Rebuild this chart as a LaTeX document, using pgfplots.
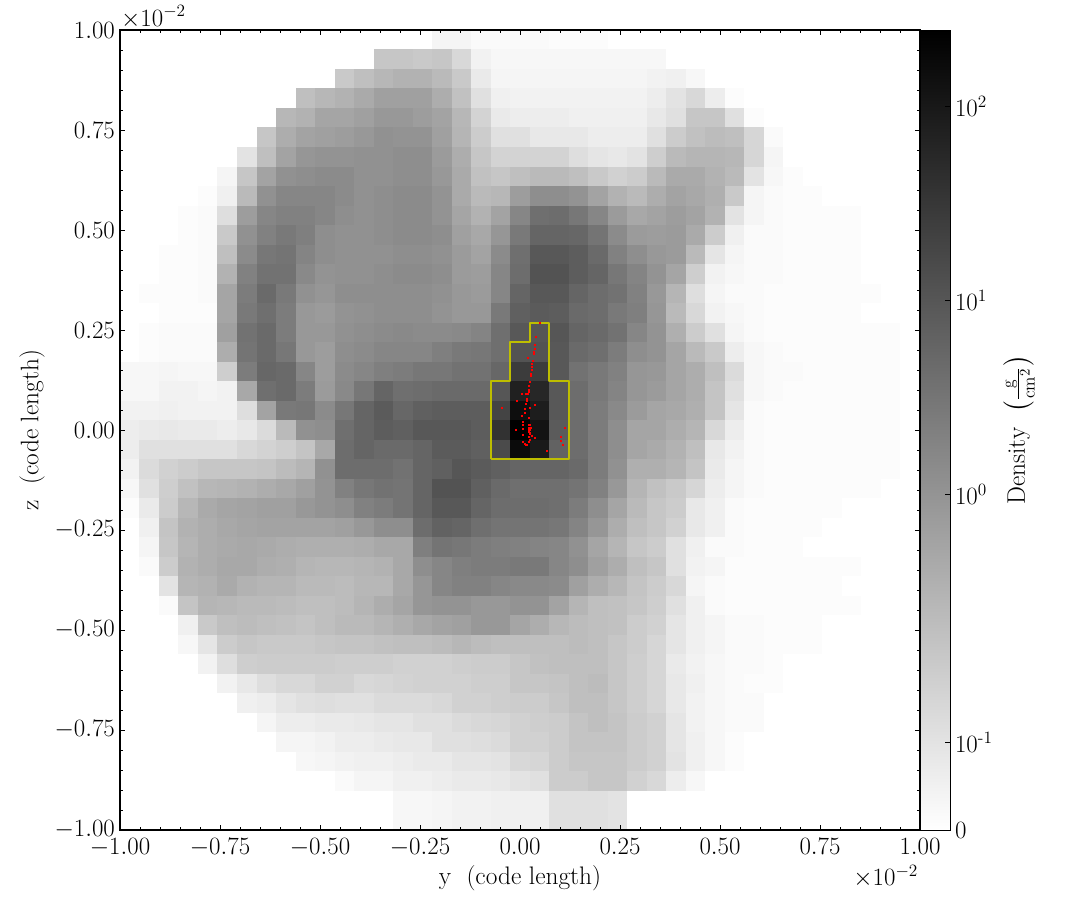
\documentclass[border=0pt]{standalone}
\usepackage{pgfplots}
\usepackage{pgfplotstable}
\usepackage{amsmath}
\pgfplotsset{compat=1.18}
% First column: row number from the top. Then the 41 cells of that row:
% colour-scale position in percent (0 = white, 100 = black)
\pgfplotstableread[header=false]{
0 0 0 0 0 0 0 0 0 0 0 0 0 0 0 0 0 4 4 2 2 2 2 1 1 1 0 0 0 0 0 0 0 0 0 0 0 0 0 0 0 0
1 0 0 0 0 0 0 0 0 0 0 0 0 0 22 22 21 22 15 5 3 3 3 3 3 3 3 3 3 0 0 0 0 0 0 0 0 0 0 0 0 0
2 0 0 0 0 0 0 0 0 0 0 0 21 25 28 30 30 27 21 8 4 4 4 4 4 4 4 4 5 6 3 0 0 0 0 0 0 0 0 0 0 0
3 0 0 0 0 0 0 0 0 0 25 28 30 33 37 37 37 32 24 12 6 5 5 5 5 5 5 5 7 11 15 7 1 0 0 0 0 0 0 0 0 0
4 0 0 0 0 0 0 0 0 28 30 35 35 37 40 40 38 36 28 17 8 7 7 7 6 6 6 6 9 12 22 22 12 1 0 0 0 0 0 0 0 0
5 0 0 0 0 0 0 0 22 32 36 37 38 40 43 42 42 37 29 20 12 12 9 9 9 7 7 7 12 20 24 26 25 16 2 0 0 0 0 0 0 0
6 0 0 0 0 0 0 11 25 36 41 42 42 43 43 44 44 39 32 22 17 17 17 17 13 10 9 11 19 27 29 29 28 16 4 0 0 0 0 0 0 0
7 0 0 0 0 0 4 22 36 43 44 45 45 43 43 44 44 40 33 24 22 25 27 27 25 21 18 20 27 33 33 30 27 11 3 1 0 0 0 0 0 0
8 0 0 0 0 1 6 27 43 47 47 47 45 43 44 45 45 42 33 27 28 38 44 44 42 36 30 27 32 36 34 31 21 4 2 1 1 0 0 0 0 0
9 0 0 0 1 2 13 38 47 49 49 47 44 43 44 45 45 42 35 30 36 47 56 57 53 47 39 34 36 38 36 30 11 4 2 1 1 1 1 0 0 0
10 0 0 0 1 2 21 43 49 52 50 44 43 43 44 45 45 44 37 34 41 52 60 60 59 54 45 39 38 39 33 20 6 2 2 1 1 1 1 0 0 0
11 0 0 1 1 2 25 45 53 54 48 44 43 43 43 44 44 43 39 36 45 56 65 65 63 58 49 44 40 39 27 10 4 2 2 1 1 1 1 0 0 0
12 0 0 1 1 2 30 49 55 55 46 42 43 43 44 45 45 44 39 38 47 57 67 67 63 60 53 48 42 35 19 5 3 2 2 1 1 1 1 0 0 0
13 0 1 1 1 2 35 51 58 52 43 41 44 44 44 44 44 43 40 39 47 60 65 65 60 57 55 49 40 29 13 4 2 2 1 1 1 1 1 1 0 0
14 0 0 1 1 1 35 52 56 51 40 39 42 43 44 44 44 42 40 40 52 62 64 63 58 57 52 50 41 27 15 5 3 2 1 1 1 1 1 0 0 0
15 0 1 2 2 2 37 55 58 51 40 40 43 44 45 46 45 45 46 48 56 65 66 66 60 58 55 47 42 31 20 12 4 2 1 1 1 1 1 1 1 0
16 0 1 2 2 2 32 54 58 53 40 38 44 45 47 47 47 50 52 53 56 67 67 65 58 56 51 44 42 35 27 21 7 3 2 1 1 1 1 1 1 0
17 3 3 4 3 3 19 51 59 58 47 38 45 47 50 51 53 53 55 55 59 76 76 65 55 52 49 41 40 35 32 25 14 3 2 2 1 1 1 1 1 0
18 3 3 5 5 4 5 34 56 58 51 39 46 53 60 56 57 58 58 58 66 87 84 65 57 52 48 41 39 35 32 23 12 3 2 1 1 1 1 1 1 0
19 5 5 6 5 5 5 13 36 52 53 45 53 60 64 59 62 63 63 63 73 94 88 65 57 51 46 39 35 34 31 23 10 2 1 1 1 1 1 1 1 0
20 7 8 9 8 8 7 9 14 27 43 44 56 60 63 62 65 65 65 63 80 100 92 64 57 51 44 35 35 32 29 15 7 2 1 1 1 1 1 1 1 0
21 7 12 12 12 12 12 15 17 19 23 34 57 60 58 58 60 64 64 62 70 95 89 61 57 51 44 35 33 30 25 9 5 2 1 1 1 1 1 1 1 0
22 5 14 18 20 22 22 22 23 26 29 43 57 57 57 55 60 62 66 64 62 60 60 60 58 51 43 31 31 29 23 8 4 2 1 1 1 1 1 1 1 0
23 3 12 19 24 28 29 30 32 34 37 42 49 53 55 54 60 67 67 62 58 56 56 56 54 49 40 29 24 21 16 7 4 2 1 1 1 1 1 1 0 0
24 1 8 20 28 33 35 36 37 37 40 42 44 49 51 54 60 65 65 60 57 57 57 56 51 44 35 27 22 20 9 6 2 1 1 1 1 1 0 0 0 0
25 0 6 23 30 32 34 35 36 36 36 36 37 40 44 44 57 61 60 56 54 54 54 53 48 41 32 25 22 18 9 6 2 1 1 1 1 0 0 0 0 0
26 0 4 22 29 32 33 34 33 32 31 31 31 32 34 34 50 54 53 51 50 49 48 47 43 35 29 22 20 12 6 2 2 1 1 1 0 0 0 0 0 0
27 0 2 20 30 32 34 34 32 31 29 28 28 29 30 34 44 47 50 51 51 52 52 47 44 37 32 25 22 12 5 4 1 1 1 1 1 1 1 0 0 0
28 0 0 11 29 30 33 30 29 29 27 27 26 28 28 34 41 47 49 49 47 46 46 45 37 32 28 23 20 15 4 2 1 1 1 1 1 1 0 0 0 0
29 0 0 2 23 29 28 27 27 26 25 25 26 29 32 35 41 42 42 40 40 42 42 36 29 25 24 22 19 12 6 2 1 1 1 1 1 1 1 0 0 0
30 0 0 0 6 21 25 26 25 24 23 25 27 27 29 31 34 36 37 40 40 35 32 28 26 25 24 20 18 10 6 4 2 2 1 1 1 0 0 0 0 0
31 0 0 0 3 10 20 22 21 21 21 22 23 23 24 25 25 26 28 26 25 25 25 25 26 25 22 20 16 10 6 4 2 2 1 1 1 0 0 0 0 0
32 0 0 0 0 5 13 19 20 20 20 20 19 19 19 18 18 18 19 20 20 22 24 25 25 25 22 19 16 8 5 3 2 2 1 0 0 0 0 0 0 0
33 0 0 0 0 0 5 9 13 15 15 18 18 15 16 17 18 18 18 19 19 22 22 23 25 26 22 19 16 9 6 3 2 1 1 0 0 0 0 0 0 0
34 0 0 0 0 0 0 6 7 10 12 13 12 12 14 14 14 15 18 18 19 20 20 22 25 25 22 19 16 9 5 3 2 2 0 0 0 0 0 0 0 0
35 0 0 0 0 0 0 0 4 7 7 8 8 9 10 10 12 12 14 15 16 18 19 20 23 25 23 20 18 10 5 3 2 2 0 0 0 0 0 0 0 0
36 0 0 0 0 0 0 0 0 4 4 5 7 7 8 9 9 12 12 13 14 18 18 20 23 23 23 20 18 10 6 3 1 0 0 0 0 0 0 0 0 0
37 0 0 0 0 0 0 0 0 0 3 4 5 6 6 7 8 8 10 10 11 15 16 20 22 22 22 20 18 11 6 3 1 0 0 0 0 0 0 0 0 0
38 0 0 0 0 0 0 0 0 0 0 0 2 4 4 6 6 7 8 8 9 11 12 20 20 22 22 18 15 7 3 0 0 0 0 0 0 0 0 0 0 0
39 0 0 0 0 0 0 0 0 0 0 0 0 0 0 3 3 4 5 5 6 6 6 12 12 12 11 0 0 0 0 0 0 0 0 0 0 0 0 0 0 0
40 0 0 0 0 0 0 0 0 0 0 0 0 0 0 3 3 4 5 5 6 6 6 12 12 12 11 0 0 0 0 0 0 0 0 0 0 0 0 0 0 0
}\griddata
\begin{document}
\begin{tikzpicture}
\path[use as bounding box] (-90pt,-67.5pt) rectangle (723.75pt,622.5pt);
\begin{axis}[
  at={(0pt,0pt)}, anchor=south west,
  scale only axis, width=600pt, height=600pt,
  xmin=-1, xmax=1, ymin=-1, ymax=1,
  axis line style={line width=0.8pt},
  axis on top,
  clip marker paths=true,
  tick align=inside,
  xtick pos=both, ytick pos=both,
  xticklabel pos=bottom, yticklabel pos=left,
  xtick={-1,-0.75,-0.5,-0.25,0,0.25,0.5,0.75,1},
  ytick={-1,-0.75,-0.5,-0.25,0,0.25,0.5,0.75,1},
  minor tick num=4,
  major tick length=4pt, minor tick length=2pt,
  tick style={line width=0.6pt,black},
  scaled ticks=false,
  tick label style={font=\LARGE,scale=1.08},
  xticklabel style={yshift=-2pt},
  /pgf/number format/fixed,
  /pgf/number format/fixed zerofill,
  /pgf/number format/precision=2,
  xlabel={y\ \ (code length)},
  ylabel={z\ \ (code length)},
  label style={font=\LARGE,scale=1.1},
  xlabel style={at={(axis description cs:0.5,-0.06)},anchor=center},
  ylabel style={at={(axis description cs:-0.11,0.5)},anchor=center},
  colormap={wb}{color=(white) color=(black)},
  point meta min=0, point meta max=100,
  colorbar,
  colorbar/width=22.5pt,
  colorbar shift/.style={xshift=0pt},
  colorbar style={
    at={(parent axis.south east)}, anchor=south west,
    scale only axis,
    width=22.5pt, height=600pt,
    ymin=0, ymax=100,
    ytick={0,11,42,66.25,90.4},
    yticklabels={$0$,{$10^{\text{-}1}$},{$10^{0}$},{$10^{1}$},{$10^{2}$}},
    ytick pos=right, yticklabel pos=right,
    tick align=inside,
    minor tick num=0,
    major tick length=4pt,
    tick label style={font=\LARGE,scale=1.08},
    ylabel={Density\ \ $\left(\frac{\mathrm{g}}{\mathrm{cm}^{2}}\right)$},
    ylabel style={font=\LARGE,scale=1.1,at={(axis description cs:3.3,0.5)},anchor=center},
    axis line style={line width=0.6pt},
  },
  extra description/.code={
    \node[font=\LARGE,scale=1.08,anchor=south west,inner sep=0pt] at (0.001,1.002) {$\times 10^{-2}$};
    \node[font=\LARGE,scale=1.08,anchor=east,inner sep=0pt] at (0.998,-0.0575) {$\times 10^{-2}$};
  },
]
\pgfplotsinvokeforeach{1,...,41}{
\addplot[scatter, only marks, mark=square*, mark size=7.317pt, point meta=explicit,
         scatter/use mapped color={draw=mapped color,fill=mapped color},
         mark options={line width=0.1pt}, forget plot]
  table[x expr={-1+(#1-0.5)*2/41},
        y expr={1-(\thisrowno{0}+0.5)*2/41},
        meta index=#1] {\griddata};
}
\addplot[color={rgb,255:red,190;green,190;blue,0}, line width=1.5pt, line join=round, forget plot] coordinates {
  (-0.0732,-0.0732) (-0.0732,0.122) (-0.0244,0.122) (-0.0244,0.2195) (0.0244,0.2195)
  (0.0244,0.2683) (0.0732,0.2683) (0.0732,0.122) (0.122,0.122) (0.122,-0.0732) (-0.0732,-0.0732)};
\addplot[only marks, mark=square*, mark size=0.4pt, red, mark options={draw=none,fill=red}, forget plot] coordinates {
(.0483,.2683)(.0383,.2333)(.0375,.2125)(.0358,.2025)(.035,.1958)(.0342,.19)(.02,.1817)(.0308,.1725)(.03,.1667)
(.0292,.1583)(.0283,.15)(.0275,.1417)(.0267,.135)(.0233,.1208)(.0225,.11)(.0217,.1017)(.0208,.0958)(.015,.0917)
(.0192,.0917)(.0033,.09)(.0167,.0792)(.0158,.0733)(-.0075,.0725)(.0142,.065)(-.0467,.0567)(.0242,.0558)(.0375,.0642)
(.0125,.0525)(.0108,.0433)(.0033,.0367)(.0208,.0308)(.0075,.0208)(.0067,.0125)(.0225,.0125)(.0225,.0067)(.0225,.0017)
(.0225,-.0042)(.0233,-.01)(.025,.0125)(.0258,.0067)(.025,0)(.025,-.0067)(-.01,.0017)(.0067,.0033)(.0058,-.0108)
(.03,-.0133)(.0225,-.0167)(.0233,-.0233)(.0358,-.02)(.0067,-.0283)(.0208,-.0292)(.0117,-.035)(.0142,-.0375)(.0175,-.0375)
(.0667,-.0508)(.1108,.0067)(.1008,-.0167)(.1017,-.0275)(.1058,-.0375)};
\end{axis}
\end{tikzpicture}
\end{document}
